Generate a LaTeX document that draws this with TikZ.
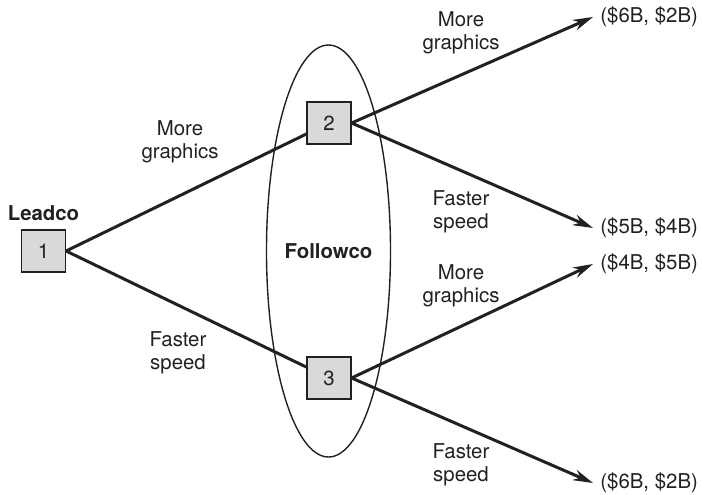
\documentclass[tikz,border=0pt]{standalone}
\usepackage{fontspec}
\setmainfont{TeX Gyre Heros}
\usetikzlibrary{arrows.meta,shapes.geometric}
\definecolor{BoxClr}{rgb}{0.85,0.85,0.85}
\definecolor{InkClr}{rgb}{0.14,0.12,0.13}

\tikzset{
  decbox/.style={draw=InkClr,fill=BoxClr,line width=0.6pt,minimum width=22pt,minimum height=21pt,inner sep=0pt},
  branch/.style={draw=InkClr,line width=1.5pt},
  payarrow/.style={branch,-{Stealth[length=10pt,width=5.5pt]}},
  payoff/.style={anchor=west,inner sep=3.5pt},
  movelbl/.style={align=center},
}

\begin{document}
\begin{tikzpicture}[x=0.5pt,y=-0.5pt,font=\fontsize{10.2}{11.6}\selectfont,text=InkClr]
\useasboundingbox (0,0) rectangle (702,494);

% information set of the second mover
\node[draw=InkClr,line width=0.7pt,ellipse,minimum width=59.5pt,minimum height=206pt,inner sep=0pt] (info) at (328.5,251) {\textbf{Followco}};

\node[decbox] (n1) at (43.5,251) {1};
\node[decbox] (n2) at (329,123) {2};
\node[decbox] (n3) at (329,378) {3};
\node (lead) at (43.5,213) {\textbf{Leadco}};

\node[payoff] (p1) at (593,17) {(\$6B, \$2B)};
\node[payoff] (p2) at (593,228) {(\$5B, \$4B)};
\node[payoff] (p3) at (593,264) {(\$4B, \$5B)};
\node[payoff] (p4) at (593,483) {(\$6B, \$2B)};

\draw[branch] (n1.east) -- (n2);
\draw[branch] (n1.east) -- (n3);
\draw[payarrow] (n2.east) -- (p1.west);
\draw[payarrow] (n2.east) -- (p2.west);
\draw[payarrow] (n3.east) -- (p3.west);
\draw[payarrow] (n3.east) -- (p4.west);

\node[movelbl] (m1) at (180,142) {More\\graphics};
\node[movelbl] (s1) at (178,353) {Faster\\speed};
\node[movelbl] (m2) at (461,33) {More\\graphics};
\node[movelbl] (s2) at (461,212) {Faster\\speed};
\node[movelbl] (m3) at (461,286) {More\\graphics};
\node[movelbl] (s3) at (461,465) {Faster\\speed};

\end{tikzpicture}
\end{document}
